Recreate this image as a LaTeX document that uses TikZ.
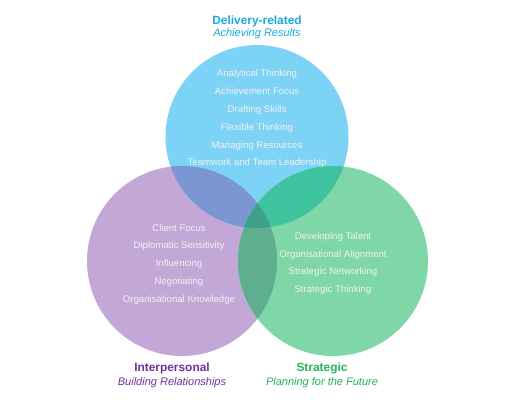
\documentclass[tikz,border=0pt]{standalone}
\usepackage{fontspec}
\setmainfont{Liberation Sans}
\definecolor{cB}{HTML}{7DD3F5}
\definecolor{cP}{HTML}{C3A7D7}
\definecolor{cG}{HTML}{7FD6A6}
\definecolor{cBP}{HTML}{7B97D3}
\definecolor{cBG}{HTML}{3FC29E}
\definecolor{cPG}{HTML}{5EAE90}
\definecolor{cBPG}{HTML}{3FA08A}
\definecolor{tB}{HTML}{17A9E1}
\definecolor{tP}{HTML}{7030A0}
\definecolor{tG}{HTML}{25B45A}
\definecolor{itemc}{HTML}{F2F2F2}
\begin{document}
\begin{tikzpicture}[x=1pt,y=-1pt,
  item/.style={text=itemc,font=\fontsize{9.6}{11}\selectfont,inner sep=0pt,anchor=base,yshift=-3.5pt},
  ttl/.style={font=\fontsize{11.9}{13}\selectfont\bfseries,inner sep=0pt,anchor=base,yshift=-4.3pt},
  sub/.style={font=\fontsize{11}{13}\selectfont\itshape,inner sep=0pt,anchor=base,yshift=-4pt}]
\useasboundingbox (0,0) rectangle (510,413);
\def\blue{(257,136.5) circle (91.5)}
\def\purp{(182,261) circle (95)}
\def\gree{(333,261) circle (95)}
\fill[cB] \blue;
\fill[cP] \purp;
\fill[cG] \gree;
\begin{scope}\clip \blue; \fill[cBP] \purp; \fill[cBG] \gree; \end{scope}
\begin{scope}\clip \purp; \fill[cPG] \gree; \end{scope}
\begin{scope}\clip \blue; \clip \purp; \fill[cBPG] \gree; \end{scope}
% titles
\node[ttl,text=tB] (tb) at (257,20) {Delivery-related};
\node[sub,text=tB] (sb) at (257,32.5) {Achieving Results};
\node[ttl,text=tP] (tp) at (172,367) {Interpersonal};
\node[sub,text=tP] (sp) at (172,381) {Building Relationships};
\node[ttl,text=tG] (tg) at (322,367) {Strategic};
\node[sub,text=tG] (sg) at (322,381) {Planning for the Future};
% blue items
\node[item] (b1) at (257,73) {Analytical Thinking};
\node[item] (b2) at (257,91) {Achievement Focus};
\node[item] (b3) at (257,109) {Drafting Skills};
\node[item] (b4) at (257,127) {Flexible Thinking};
\node[item] (b5) at (257,144.5) {Managing Resources};
\node[item] (b6) at (257,162) {Teamwork and Team Leadership};
% purple items
\node[item] (p1) at (179,227.5) {Client Focus};
\node[item] (p2) at (179,245) {Diplomatic Sensitivity};
\node[item] (p3) at (179,263) {Influencing};
\node[item] (p4) at (179,281) {Negotiating};
\node[item] (p5) at (179,298.5) {Organisational Knowledge};
% green items
\node[item] (g1) at (333,235.5) {Developing Talent};
\node[item] (g2) at (333,253.5) {Organisational Alignment};
\node[item] (g3) at (333,271) {Strategic Networking};
\node[item] (g4) at (333,288.5) {Strategic Thinking};
\end{tikzpicture}
\end{document}
